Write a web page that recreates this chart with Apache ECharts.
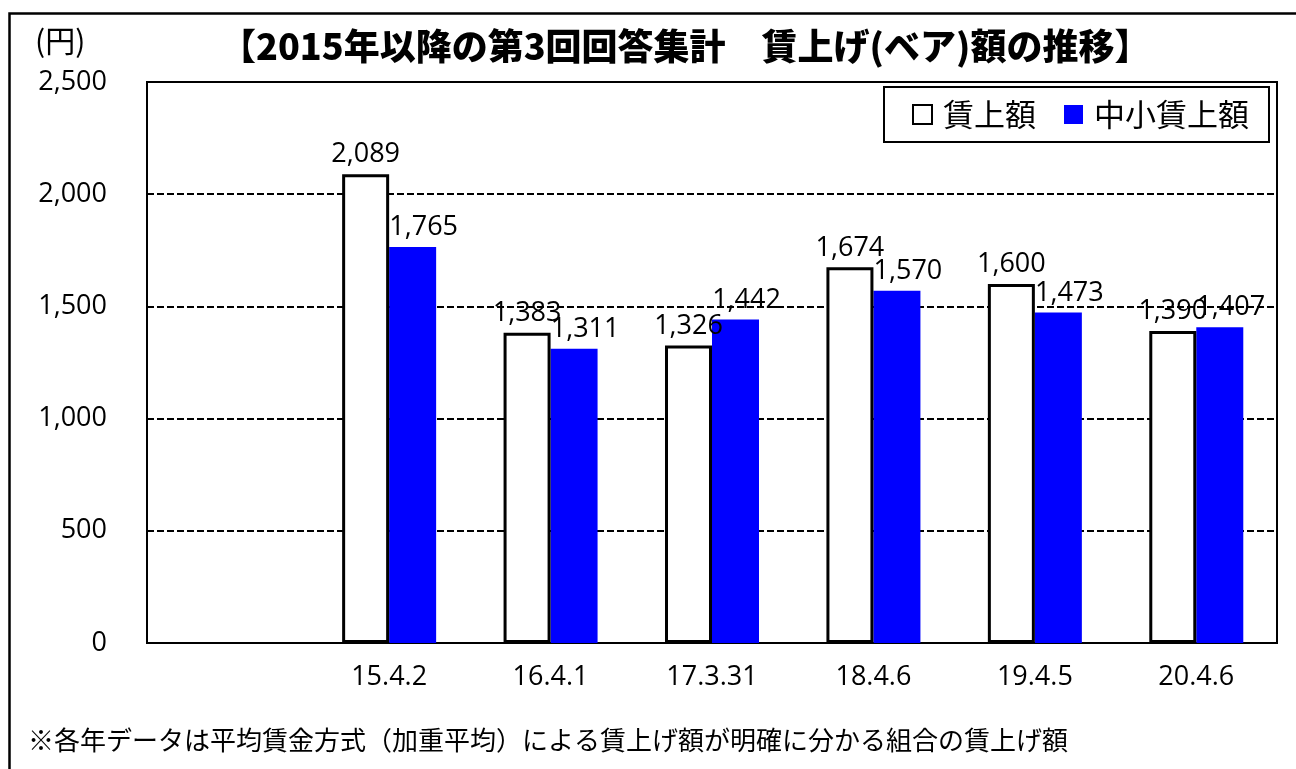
<!DOCTYPE html>
<html>
<head>
<meta charset="utf-8">
<script src="https://cdn.jsdelivr.net/npm/echarts@6/dist/echarts.min.js"></script>
<style>
html,body{margin:0;padding:0;background:#fff;}
#c{width:1296px;height:769px;}
</style>
</head>
<body>
<div id="c"></div>
<script>
const categories = ['', '15.4.2', '16.4.1', '17.3.31', '18.4.6', '19.4.5', '20.4.6'];
const seriesNames = ['賃上額', '中小賃上額'];
const wageUp = [null, 2089, 1383, 1326, 1674, 1600, 1390];
const smeWageUp = [null, 1765, 1311, 1442, 1570, 1473, 1407];
const titleText = '【2015年以降の第3回回答集計　賃上げ(ベア)額の推移】';
const unitText = '(円)';
const noteText = '※各年データは平均賃金方式（加重平均）による賃上げ額が明確に分かる組合の賃上げ額';

const numFont = "'Open Sans', 'Noto Sans CJK JP', sans-serif";
const jpFont = "'Noto Sans CJK JP', sans-serif";
const fmt = v => Number(v).toLocaleString('en-US');

const chart = echarts.init(document.getElementById('c'));
chart.setOption({
  animation: false,
  backgroundColor: '#fff',
  title: {
    text: titleText,
    left: 215, top: 23,
    textStyle: { fontFamily: jpFont, fontSize: 36, fontWeight: 900, color: '#000' }
  },
  legend: {
    data: seriesNames,
    left: 884, top: 87,
    padding: [12, 20, 12, 28],
    borderColor: '#000', borderWidth: 2,
    itemWidth: 19, itemHeight: 19, itemGap: 28,
    icon: 'rect',
    textStyle: { fontFamily: jpFont, fontSize: 31, color: '#000', padding: [0, 0, 0, 6] }
  },
  grid: {
    left: 147, right: 19, top: 82, bottom: 126,
    show: true, borderColor: '#000', borderWidth: 2, backgroundColor: 'transparent'
  },
  xAxis: {
    type: 'category',
    data: categories,
    axisLine: { lineStyle: { color: '#000', width: 2 } },
    axisTick: { show: false },
    axisLabel: { fontFamily: numFont, fontSize: 27, color: '#000', margin: 21, interval: 0 }
  },
  yAxis: {
    type: 'value',
    min: 0, max: 2500, interval: 500,
    axisLine: { show: false },
    axisTick: { show: false },
    axisLabel: { fontFamily: numFont, fontSize: 27, color: '#000', margin: 40, padding: [5, 0, 0, 0], formatter: fmt },
    splitLine: { lineStyle: { color: '#000', width: 2, type: [7, 3] } }
  },
  series: [
    {
      name: seriesNames[0],
      type: 'bar',
      data: wageUp,
      barWidth: 47,
      barGap: '0%',
      itemStyle: { color: '#fff', borderColor: '#000', borderWidth: 3 },
      label: {
        show: true, position: 'top', distance: 6,
        fontFamily: numFont, fontSize: 27, color: '#000',
        formatter: p => fmt(p.value)
      },
      z: 3
    },
    {
      name: seriesNames[1],
      type: 'bar',
      data: smeWageUp,
      barWidth: 47,
      barGap: '0%',
      itemStyle: { color: '#0000ff' },
      label: {
        show: true, position: 'top', distance: 6, offset: [11, 0],
        fontFamily: numFont, fontSize: 27, color: '#000',
        formatter: p => fmt(p.value)
      },
      z: 2
    }
  ],
  graphic: [
    {
      type: 'rect', left: 7, top: 11, silent: true,
      shape: { x: 0, y: 0, width: 1400, height: 900 },
      style: { fill: 'none', stroke: '#000', lineWidth: 2.5 }
    },
    {
      type: 'text', left: 35, top: 26,
      style: { text: unitText, fontFamily: jpFont, fontSize: 30, fill: '#000' }
    },
    {
      type: 'text', left: 28, top: 727,
      style: { text: noteText, fontFamily: jpFont, fontSize: 26, fill: '#000' }
    }
  ]
});
</script>
</body>
</html>
